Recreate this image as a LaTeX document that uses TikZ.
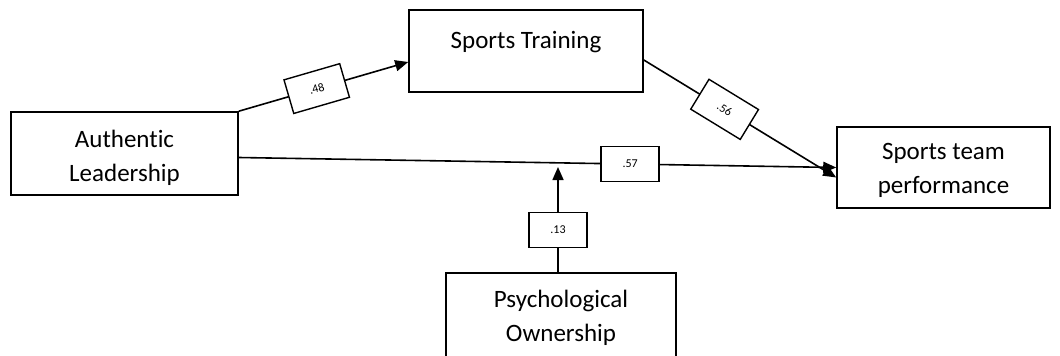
\documentclass[tikz,border=0pt]{standalone}
\usepackage{fontspec}
\setmainfont{Carlito}[Ligatures=NoCommon]
\usetikzlibrary{arrows.meta}
\begin{document}
\begin{tikzpicture}[x=1pt,y=-1pt,
	box/.style={draw,line width=1.6pt,rectangle,inner sep=0pt},
	txt/.style={align=center,font=\fontsize{25}{34}\selectfont},
	coef/.style={draw,line width=1.4pt,fill=white,minimum width=58pt,minimum height=35pt,inner sep=0pt,font=\fontsize{12}{12}\selectfont},
	path/.style={line width=1.6pt,-{Triangle[length=13pt,width=11pt]}}]
	\useasboundingbox (0,0) rectangle (1060,356);
	% boxes
	\node[box,minimum width=227pt,minimum height=83pt] (al) at (124.5,153.5) {};
	\node[txt] (alt) at (124.5,158) {Authentic\\Leadership};
	\node[box,minimum width=234pt,minimum height=82pt] (st) at (526,51) {};
	\node[txt] (stt) at (526,42) {Sports Training};
	\node[box,minimum width=213pt,minimum height=81pt] (perf) at (943.5,167.5) {};
	\node[txt] (perft) at (943.5,170) {Sports team\\performance};
	\node[box,minimum width=230pt,minimum height=90pt] (po) at (561,318) {};
	\node[txt] (pot) at (561,318) {Psychological\\Ownership};
	\coordinate (m) at (558,167);
	% paths
	\draw[path] (al.north east) -- node[coef,sloped,pos=0.46] (c1) {.48} ([yshift=-11pt]st.west);
	\draw[path] ([yshift=-9pt]st.east) -- node[coef,sloped,pos=0.42] (c2) {.56} ([yshift=-10pt]perf.west);
	\draw[path] ([yshift=-4pt]al.east) -- node[coef,pos=0.655] (c3) {.57} (perf.west);
	\draw[path] (po.north -| m) -- node[coef,pos=0.4] (c4) {.13} (m);
\end{tikzpicture}
\end{document}
